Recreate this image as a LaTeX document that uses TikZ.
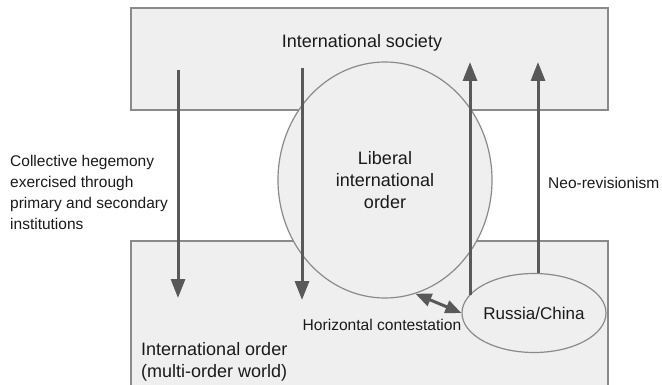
\documentclass[tikz,border=0pt]{standalone}
\usepackage{fontspec}
\setmainfont{Liberation Sans}
\usepackage{tikz}
\usetikzlibrary{shapes.geometric, arrows.meta, positioning, calc}
\definecolor{PanelGray}{HTML}{EFEFEF}
\definecolor{EdgeGray}{HTML}{8A8A8A}
\definecolor{ArrowGray}{HTML}{595959}
\definecolor{InkGray}{HTML}{1A1A1A}

\begin{document}
\begin{tikzpicture}[x=1pt, y=-1pt,
    panel/.style={draw=EdgeGray, fill=PanelGray, line width=1.4pt, inner sep=0pt},
    blob/.style={ellipse, draw=EdgeGray, fill=PanelGray, line width=1.2pt, inner sep=0pt,
                 text=InkGray},
    label/.style={text=InkGray, inner sep=0pt},
    arrow/.style={-{Triangle[length=19pt, width=14pt]}, line width=3pt, ArrowGray},
    contest/.style={{Triangle[length=16pt, width=13pt]}-{Triangle[length=16pt, width=13pt]},
                    line width=3pt, ArrowGray}
  ]
    \useasboundingbox (0,0) rectangle (662,385);

    % the two levels
    \node[panel, minimum width=477pt, minimum height=102pt] (society) at (369.5,59) {};
    \node[panel, minimum width=477pt, minimum height=154pt] (order) at (369.5,318) {};

    % orders inside
    \node[blob, minimum width=214pt, minimum height=236pt, align=center,
          font=\fontsize{18}{22}\selectfont] (lio) at (385,180) {Liberal\\international\\order};
    \node[blob, minimum width=144pt, minimum height=79pt,
          font=\fontsize{17}{20}\selectfont] (rc) at (534,313) {Russia/China};

    % texts
    \node[label, font=\fontsize{18}{22}\selectfont] (soclabel) at (362,43) {International society};
    \node[label, anchor=west, align=left, font=\fontsize{18}{22}\selectfont] (ordlabel)
      at (141,362) {International order\\(multi-order world)};
    \node[label, anchor=west, align=left, font=\fontsize{15.5}{21}\selectfont] (hegemony)
      at (10,192) {Collective hegemony\\exercised through\\primary and secondary\\institutions};
    \node[label, anchor=west, font=\fontsize{15.5}{19}\selectfont] (neorev) at (548,183) {Neo-revisionism};
    \node[label, font=\fontsize{15.6}{19}\selectfont] (horiz) at (382,325) {Horizontal contestation};

    % arrow ends
    \coordinate (down1s) at (178,70);
    \coordinate (down1e) at (178,298);
    \coordinate (down2s) at (302,68);
    \coordinate (down2e) at (302,300);
    \coordinate (up1) at (470,62);
    \coordinate (up2) at (538,62);

    \draw[arrow] (down1s) -- (down1e);
    \draw[arrow] (down2s) -- (down2e);
    \draw[arrow] (up1 |- rc.164) -- (up1);
    \draw[arrow] (up2 |- rc.north) -- (up2);
    \draw[contest] (lio.-75) -- (rc.west);
  \end{tikzpicture}
\end{document}
